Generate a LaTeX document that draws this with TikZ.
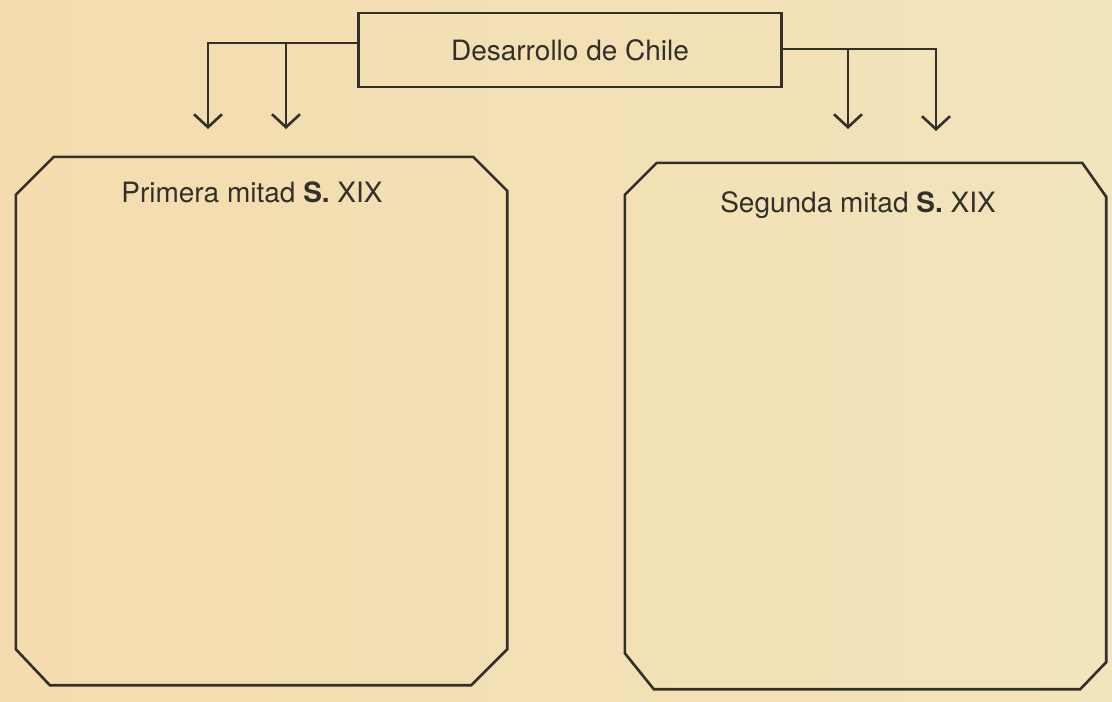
\documentclass[tikz,border=0pt]{standalone}
\usepackage{fontspec}
\setmainfont{TeX Gyre Heros}
\usetikzlibrary{arrows.meta,positioning}
\definecolor{papel}{RGB}{244,220,174}
\definecolor{papelb}{RGB}{242,228,188}
\definecolor{tinta}{RGB}{50,48,40}

\begin{document}
\begin{tikzpicture}[x=1pt,y=-1pt,>={Straight Barb[length=13pt,width=28pt]},
 every node/.style={font=\fontsize{28}{33}\selectfont,text=tinta},
 caja/.style={draw=tinta,line width=2.6pt,minimum width=423pt,minimum height=74pt,inner sep=0pt},
 marco/.style={inner sep=0pt},
 borde/.style={draw=tinta,line width=2.6pt},
 flecha/.style={draw=tinta,line width=2.6pt,->}]
\shade[left color=papel,right color=papelb] (0,0) rectangle (1112,702);
\useasboundingbox (0,0) rectangle (1112,702);
\node[caja] (chile) at (570,50) {Desarrollo de Chile};
\node[marco,minimum width=491pt,minimum height=528pt] (primera) at (261.5,421) {};
\node[marco,minimum width=481pt,minimum height=526pt] (segunda) at (865.5,426) {};
\node (tprimera) at (252,192) {Primera mitad \textbf{S.} XIX};
\node (tsegunda) at (858,205) {Segunda mitad \textbf{S.} XIX};
% bloques con esquinas cortadas
\draw[borde] ([xshift=38pt]primera.north west) -- ([xshift=-34pt]primera.north east)
  -- ([yshift=-34pt]primera.north east) -- ([yshift=36pt]primera.south east)
  -- ([xshift=-36pt]primera.south east) -- ([xshift=34pt]primera.south west)
  -- ([yshift=36pt]primera.south west) -- ([yshift=-38pt]primera.north west) -- cycle;
\draw[borde] ([xshift=32pt]segunda.north west) -- ([xshift=-24pt]segunda.north east)
  -- ([yshift=-34pt]segunda.north east) -- ([yshift=27pt]segunda.south east)
  -- ([xshift=-26pt]segunda.south east) -- ([xshift=29pt]segunda.south west)
  -- ([yshift=36pt]segunda.south west) -- ([yshift=-32pt]segunda.north west) -- cycle;
% flechas
\coordinate (l1) at (208,129); \coordinate (l2) at (286,129);
\coordinate (lj) at (286,43);
\coordinate (r1) at (848,129); \coordinate (r2) at (936,131);
\coordinate (rj) at (848,49);
\draw[flecha] ([yshift=7pt]chile.west) -| (l1);
\draw[flecha] (lj) -- (l2);
\draw[flecha] ([yshift=1pt]chile.east) -| (r2);
\draw[flecha] (rj) -- (r1);
\end{tikzpicture}
\end{document}
